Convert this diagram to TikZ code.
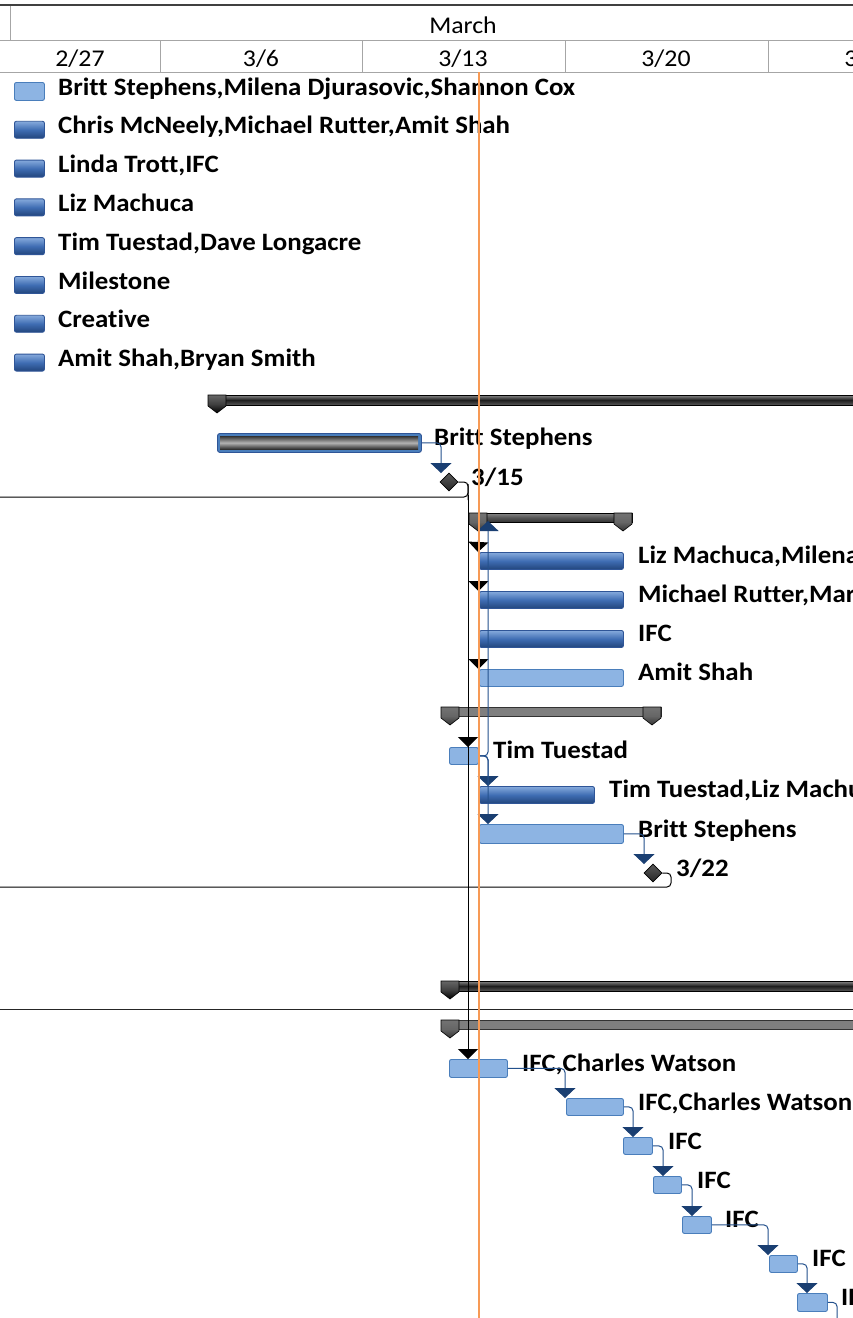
\documentclass[tikz,border=0pt]{standalone}
\usepackage{fontspec}
\setmainfont{Carlito}[FakeStretch=1.075,Ligatures=NoCommon]
\usetikzlibrary{arrows.meta,shapes.geometric}
\definecolor{lbarfill}{HTML}{8DB4E3}
\definecolor{lbarline}{HTML}{4A7EBB}
\definecolor{dbartop}{HTML}{86AADC}
\definecolor{dbarmid}{HTML}{3F6DB3}
\definecolor{dbarbot}{HTML}{22457C}
\definecolor{dbarline}{HTML}{2F5597}
\definecolor{connblue}{HTML}{24518D}
\definecolor{arrowblue}{HTML}{1A3F72}
\definecolor{nowline}{HTML}{F79A55}
\definecolor{gridgray}{HTML}{A6A6A6}
\definecolor{sumA}{HTML}{1E1E1E}
\definecolor{sumAtop}{HTML}{8A8A8A}
\definecolor{sumB}{HTML}{555555}
\definecolor{sumC}{HTML}{7F7F7F}
\tikzset{
  lbar/.style={draw=lbarline, fill=lbarfill, rounded corners=2pt, line width=0.9pt, inner sep=0pt, anchor=north west},
  dbar/.style={draw=dbarline, top color=dbartop, bottom color=dbarbot, middle color=dbarmid, rounded corners=2pt, line width=0.9pt, inner sep=0pt, anchor=north west},
  lbl/.style={font=\bfseries\fontsize{25}{25}\selectfont, anchor=base west, inner sep=0pt},
  hdr/.style={font=\fontsize{24}{24}\selectfont, anchor=base, inner sep=0pt},
  conn/.style={draw=connblue, line width=1pt, rounded corners=4pt, -{Triangle[width=21pt,length=10pt,fill=arrowblue,color=arrowblue]}},
  bconn/.style={draw=black, line width=1pt, rounded corners=4pt},
  barrow/.style={draw=black, line width=1pt, -{Triangle[width=20pt,length=10pt,fill=black,color=black]}},
  sdark/.style={draw=black, line width=0.6pt, top color=sumAtop, bottom color=sumA!75!white, middle color=sumA},
  smid/.style={draw=black, line width=0.6pt, top color=sumB!70!white, bottom color=sumB!60!black, middle color=sumB},
  slight/.style={draw=black!80, line width=0.6pt, fill=sumC},
  smarkdark/.style={draw=black, line width=0.6pt, top color=gray!80!black, bottom color=black, middle color=black!75},
  smarkmid/.style={draw=black, line width=0.6pt, top color=gray!90!black, bottom color=black!80, middle color=black!60},
  mile/.style={shape=diamond, draw=black, line width=0.6pt, top color=gray!70!black, bottom color=black!85, minimum width=18pt, minimum height=18pt, inner sep=0pt},
}
\newcommand\smark[3]{\path[#3] (#1,#2) -- ++(18,0) -- ++(0,11) -- ++(-9,7) -- ++(-9,-7) -- cycle;}
\begin{document}
\begin{tikzpicture}[x=1pt,y=-1pt]
\useasboundingbox (0,0) rectangle (853,1318);
\fill[white] (0,0) rectangle (853,1318);
\clip (0,0) rectangle (853,1318);
% header
\draw[gridgray, line width=0.8pt] (0,40) -- (853,40);
\draw[gridgray, line width=0.8pt] (0,72) -- (853,72);
\draw[gridgray, line width=0.8pt] (10,5) -- (10,40);
\foreach \xx in {160,362,565,768} \draw[gridgray, line width=0.8pt] (\xx,40) -- (\xx,72);
\draw[black!75, line width=2.5pt] (0,5) -- (853,5);
\node[hdr] (march) at (463,33) {March};
\node[hdr] (d1) at (80,66) {2/27};
\node[hdr] (d2) at (261,66) {3/6};
\node[hdr] (d3) at (463,66) {3/13};
\node[hdr] (d4) at (666,66) {3/20};
\node[hdr] (d5) at (869,66) {3/27};
% legend
\node[lbar, minimum width=30pt, minimum height=18pt] (k1) at (14,82) {};
\node[lbl] (k1t) at (58,95) {Britt Stephens,Milena Djurasovic,Shannon Cox};
\foreach \i/\t in {1/{Chris McNeely,Michael Rutter,Amit Shah},2/{Linda Trott,IFC},3/{Liz Machuca},4/{Tim Tuestad,Dave Longacre},5/{Milestone},6/{Creative},7/{Amit Shah,Bryan Smith}}{
  \node[dbar, minimum width=30pt, minimum height=17pt] (k\i b) at (14,82+38.8*\i) {};
  \node[lbl] (k\i l) at (58,95+38.8*\i) {\t};
}
% summary A
\path[sdark] (208,395) rectangle (870,405);
\smark{208}{395}{smarkdark}
% Britt Stephens task
\node[draw=dbarline, fill=lbarline, rounded corners=2.5pt, line width=0.9pt, inner sep=0pt, anchor=north west, minimum width=204pt, minimum height=19pt] (bs1) at (217,433) {};
\path[top color=black!80, bottom color=black!85, middle color=gray!60] (220,436) rectangle (418,449.5);
\node[lbl] (bs1l) at (434,445) {Britt Stephens};
\node[mile] (m1) at (449,482) {};
\node[lbl] (m1l) at (471,485) {3/15};
\coordinate (m1t) at (441,473);
\draw[conn] (bs1.east) -| (m1t);
% black link line
\coordinate (left1) at (0,497);
\draw[bconn] (left1) -| (468,484);
\draw[bconn] (m1.east) -| (468,500);
% summary B
\path[smid] (469,513) rectangle (632,522);
\smark{469}{513}{smarkmid}
\smark{614}{513}{smarkmid}
% group B tasks
\node[dbar, minimum width=144pt, minimum height=17pt] (t1) at (479,552) {};
\node[lbl] (t1l) at (638,563) {Liz Machuca,Milena Djurasovic};
\node[dbar, minimum width=144pt, minimum height=17pt] (t2) at (479,591) {};
\node[lbl] (t2l) at (638,602) {Michael Rutter,Mark Smith};
\node[dbar, minimum width=144pt, minimum height=17pt] (t3) at (479,630) {};
\node[lbl] (t3l) at (638,641) {IFC};
\node[lbar, minimum width=144pt, minimum height=17pt] (t4) at (479,669) {};
\node[lbl] (t4l) at (638,680) {Amit Shah};
% summary C
\path[slight] (441,707) rectangle (661,716);
\smark{441}{707}{smarkmid}
\smark{643}{707}{smarkmid}
\node[lbar, minimum width=29pt, minimum height=17pt] (tt) at (449,747) {};
\node[lbl] (ttl) at (493,758) {Tim Tuestad};
\node[dbar, minimum width=115pt, minimum height=17pt] (t5) at (479,786) {};
\node[lbl] (t5l) at (609,797) {Tim Tuestad,Liz Machuca};
\node[lbar, minimum width=144pt, minimum height=19pt] (t6) at (479,824) {};
\node[lbl] (t6l) at (638,837) {Britt Stephens};
\node[mile] (m2) at (653,873) {};
\node[lbl] (m2l) at (676,876) {3/22};
\coordinate (m2t) at (644,864);
\draw[conn] (t6.east) -| (m2t);
\coordinate (left2) at (0,887);
\draw[bconn] (m2.east) -- (671,873) -- (671,887) -- (left2);
% summary D, E
\path[sdark] (441,981) rectangle (870,991);
\smark{441}{981}{smarkdark}
\draw[black!85, line width=1pt] (0,1009) -- (853,1009);
\path[slight] (441,1020) rectangle (870,1029);
\smark{441}{1020}{smarkmid}
% IFC chain
\node[lbar, minimum width=58pt, minimum height=18pt] (c1) at (449,1059) {};
\node[lbl] (c1l) at (522,1071) {IFC,Charles Watson};
\node[lbar, minimum width=57pt, minimum height=17pt] (c2) at (566,1098) {};
\node[lbl] (c2l) at (638,1110) {IFC,Charles Watson};
\node[lbar, minimum width=29pt, minimum height=17pt] (c3) at (623,1137) {};
\node[lbl] (c3l) at (668,1149) {IFC};
\node[lbar, minimum width=28pt, minimum height=17pt] (c4) at (653,1176) {};
\node[lbl] (c4l) at (697,1188) {IFC};
\node[lbar, minimum width=29pt, minimum height=17pt] (c5) at (682,1216) {};
\node[lbl] (c5l) at (725,1227) {IFC};
\node[lbar, minimum width=28pt, minimum height=17pt] (c6) at (769,1255) {};
\node[lbl] (c6l) at (812,1266) {IFC};
\node[lbar, minimum width=30pt, minimum height=18pt] (c7) at (797,1293) {};
\node[lbl] (c7l) at (841,1305) {IFC};
\coordinate (c8) at (837,1340);
\draw[conn] (c1.east) -| ([xshift=-1pt]c2.north west);
\draw[conn] (c2.east) -| ([xshift=10pt]c3.north west);
\draw[conn] (c3.east) -| ([xshift=10pt]c4.north west);
\draw[conn] (c4.east) -| ([xshift=10pt]c5.north west);
\draw[conn] (c5.east) -| ([xshift=-1pt]c6.north west);
\draw[conn] (c6.east) -| ([xshift=10pt]c7.north west);
\draw[draw=connblue, line width=1pt, rounded corners=4pt] (c7.east) -| (c8);
% black arrows
\draw[bconn] (468,495) -- (468,1050);
\draw[barrow] (468,1040) -- (c1.north -| 468,0);
\draw[barrow] (468,735) -- (tt.north -| 468,0);
\draw[barrow] (478.5,540) -- ([xshift=-0.5pt]t1.north west -| 478.5,0);
\draw[barrow] (478.5,579) -- (t2.north west -| 478.5,0);
\draw[barrow] (478.5,657) -- (t4.north west -| 478.5,0);
% blue links from Tim Tuestad
\coordinate (upt) at (488,521);
\draw[conn] (tt.east) -| (upt);
\draw[conn] (tt.east) -| (t5.north -| 488,0);
\draw[conn] (tt.east) -| (t6.north -| 488,0);
% current date line
\draw[nowline, line width=2.2pt] (479,72) -- (479,1318);
\end{tikzpicture}
\end{document}
